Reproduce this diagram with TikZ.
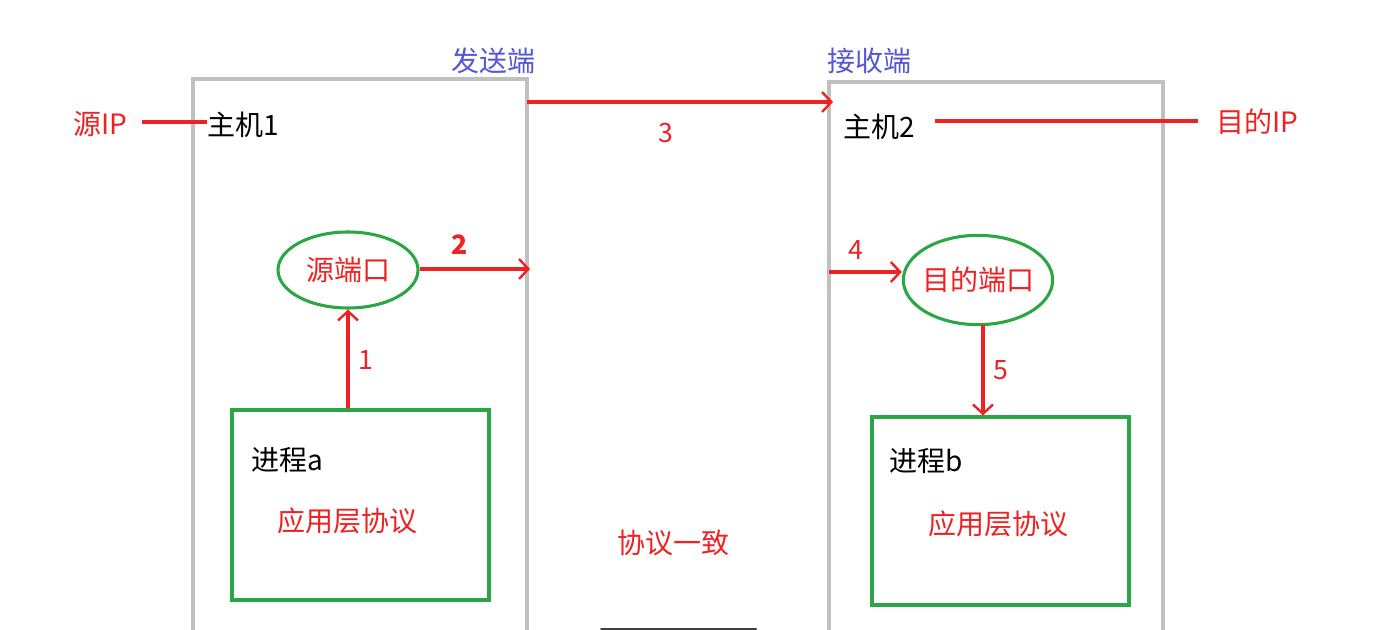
\documentclass[tikz,border=0pt]{standalone}
\usepackage{fontspec}
\setmainfont{Noto Sans CJK SC}
\usetikzlibrary{arrows.meta,shapes.geometric}
\definecolor{redc}{HTML}{EE2222}
\definecolor{greenc}{HTML}{2AA744}
\definecolor{grayc}{HTML}{C0C0C0}
\definecolor{bluec}{HTML}{5555D5}
\tikzset{
  hostbox/.style={draw=grayc,line width=2.3pt},
  procbox/.style={draw=greenc,line width=2.3pt},
  port/.style={draw=greenc,line width=2.3pt,ellipse,inner sep=0pt},
  redline/.style={color=redc,line width=2.3pt},
  redarrow/.style={color=redc,line width=2.3pt,-{Straight Barb[length=7pt,width=15pt,line width=1.8pt]}},
  redtxt/.style={text=redc,font=\fontsize{21}{24}\selectfont,inner sep=0pt},
  blktxt/.style={text=black,font=\fontsize{21}{24}\selectfont,inner sep=0pt},
  bltxt/.style={text=bluec,font=\fontsize{21}{24}\selectfont,inner sep=0pt},
  numtxt/.style={text=redc,font=\fontsize{20}{22}\selectfont,inner sep=0pt}
}
\begin{document}
\begin{tikzpicture}[x=0.75pt,y=-0.75pt]
\useasboundingbox (0,0) rectangle (1376,630);
% host boxes
\draw[hostbox] (193,640) -- (193,79) -- (527,79) -- (527,640);
\draw[hostbox] (829,640) -- (829,82) -- (1163,82) -- (1163,640);
\node[bltxt] (send) at (493,61) {发送端};
\node[bltxt] (recv) at (869,61) {接收端};
% host labels
\node[blktxt] (h1) at (243,125) {主机1};
\node[blktxt] (h2) at (879,127) {主机2};
\node[redtxt] (srcip) at (100,124) {源IP};
\node[redtxt] (dstip) at (1257,122) {目的IP};
\coordinate (sa) at (142,122);
\draw[redline] (sa) -- (h1.west |- sa);
\coordinate (da1) at (935,121);
\coordinate (da2) at (1198,121);
\draw[redline] (da1) -- (da2);
% arrow 3
\coordinate (a3s) at (527,102);
\coordinate (a3e) at (833,102);
\draw[redarrow] (a3s) -- (a3e);
\node[numtxt] (n3) at (666,133) {3};
% source port
\node[port,minimum width=105pt,minimum height=57pt] (sport) at (348,270) {};
\node[redtxt] at (sport) {源端口};
\coordinate (a2e) at (530,269);
\draw[redarrow] (sport.east |- a2e) -- (a2e);
\node[numtxt,font=\bfseries\fontsize{20}{22}\selectfont] (n2) at (460,245) {2};
% process a
\node[procbox,minimum width=192.75pt,minimum height=142.5pt,inner sep=0pt] (pa) at (360.5,505) {};
\node[blktxt] (pat) at (287,460) {进程a};
\node[redtxt] (pap) at (347,521) {应用层协议};
\draw[redarrow] (pa.north -| sport.south) -- (sport.south);
\node[numtxt] (n1) at (366,360) {1};
% dest port
\node[port,minimum width=112pt,minimum height=67pt] (dport) at (978,280) {};
\node[redtxt] at (dport) {目的端口};
\coordinate (a4s) at (829,272);
\draw[redarrow] (a4s) -- (dport.west |- a4s);
\node[numtxt] (n4) at (856,250) {4};
% process b
\node[procbox,minimum width=192.75pt,minimum height=141pt,inner sep=0pt] (pb) at (1000.5,511) {};
\node[blktxt] (pbt) at (926,461) {进程b};
\node[redtxt] (pbp) at (998,524) {应用层协议};
\coordinate (a5s) at (983,325);
\draw[redarrow] (a5s) -- (a5s |- pb.north);
\node[numtxt] (n5) at (1001,370) {5};
% middle
\node[redtxt] (agree) at (673,543) {协议一致};
% bottom bar
\coordinate (bb1) at (601,629);
\coordinate (bb2) at (756,629);
\draw[line width=1.5pt,draw=black!75,line cap=round] (bb1) -- (bb2);
\end{tikzpicture}
\end{document}
